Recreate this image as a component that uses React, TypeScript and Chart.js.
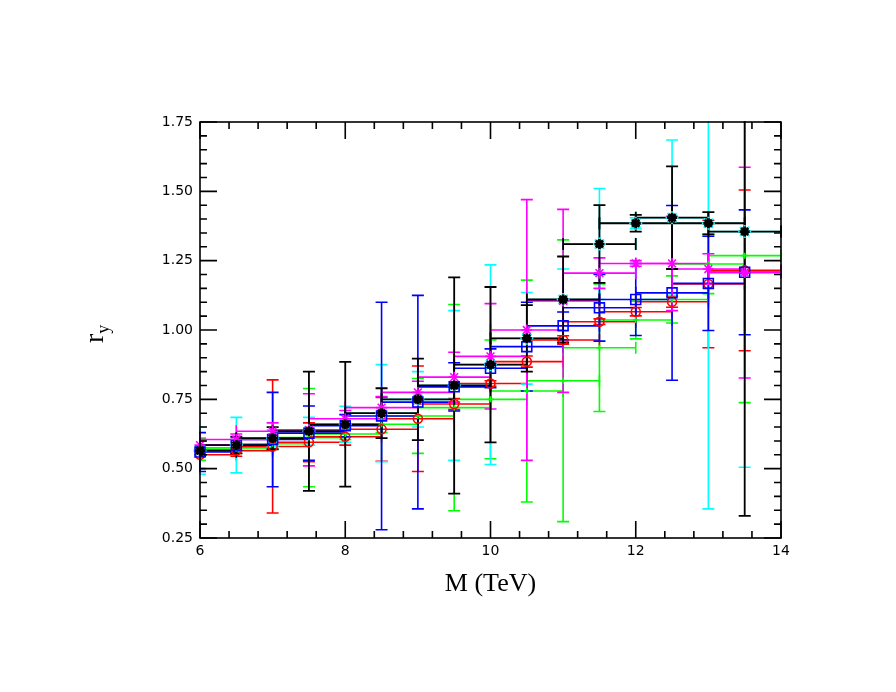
import React, { useEffect, useRef } from "react";
import { Chart, registerables } from "chart.js";

Chart.register(...registerables);

// Bin centres (TeV) and half bin width
const masses = [6, 6.5, 7, 7.5, 8, 8.5, 9, 9.5, 10, 10.5, 11, 11.5, 12, 12.5, 13, 13.5];
const binHalfWidth = 0.5;

// Series values and symmetric vertical errors
const blackValues = [0.565, 0.585, 0.61, 0.635, 0.66, 0.70, 0.75, 0.80, 0.875, 0.97, 1.11, 1.31, 1.385, 1.405, 1.385, 1.355];
const blackErrors = [0.02, 0.03, 0.04, 0.215, 0.225, 0.09, 0.147, 0.39, 0.28, 0.12, 0.155, 0.14, 0.03, 0.185, 0.04, 1.025];

const cyanValues = [0.565, 0.585, 0.61, 0.635, 0.66, 0.70, 0.75, 0.80, 0.875, 0.97, 1.11, 1.31, 1.385, 1.405, 1.385, 1.355];
const cyanErrors = [0.085, 0.1, 0.03, 0.05, 0.065, 0.175, 0.1, 0.27, 0.36, 0.165, 0.11, 0.2, 0.02, 0.28, 1.03, 0.85];

const magentaValues = [0.585, 0.605, 0.635, 0.64, 0.68, 0.72, 0.775, 0.83, 0.905, 1.0, 1.105, 1.205, 1.24, 1.24, 1.22, 1.207];
const magentaErrors = [0.02, 0.02, 0.03, 0.13, 0.03, 0.04, 0.04, 0.09, 0.19, 0.47, 0.33, 0.055, 0.01, 0.17, 0.055, 0.38];

const blueValues = [0.56, 0.585, 0.605, 0.628, 0.655, 0.69, 0.74, 0.795, 0.862, 0.94, 1.015, 1.08, 1.11, 1.134, 1.168, 1.208];
const blueErrors = [0.07, 0.02, 0.17, 0.098, 0.04, 0.41, 0.385, 0.087, 0.07, 0.16, 0.05, 0.12, 0.13, 0.315, 0.17, 0.225];

const redValues = [0.55, 0.565, 0.58, 0.595, 0.615, 0.642, 0.68, 0.733, 0.807, 0.886, 0.964, 1.03, 1.066, 1.102, 1.166, 1.215];
const redErrors = [0.05, 0.02, 0.24, 0.07, 0.03, 0.115, 0.19, 0.02, 0.01, 0.02, 0.015, 0.01, 0.015, 0.02, 0.23, 0.29];

const greenValues = [0.57, 0.575, 0.59, 0.612, 0.625, 0.66, 0.69, 0.72, 0.75, 0.78, 0.817, 0.936, 1.036, 1.11, 1.238, 1.268];
const greenErrors = [0.04, 0.02, 0.02, 0.177, 0.02, 0.03, 0.135, 0.372, 0.214, 0.40, 0.508, 0.23, 0.068, 0.085, 0.107, 0.53];

const xTickValues = [6, 8, 10, 12, 14];
const yTickValues = [0.25, 0.5, 0.75, 1.0, 1.25, 1.5, 1.75];
const xTitle = "M (TeV)";
const yTitleMain = "r";
const yTitleSub = "y";

type Series = {
  name: string;
  color: string;
  values: number[];
  errors: number[];
  pointStyle: string;
  radius: number;
  borderWidth: number;
  lineWidth: number;
  order: number;
};

const seriesList: Series[] = [
  { name: "black", color: "#000000", values: blackValues, errors: blackErrors, pointStyle: "star", radius: 5, borderWidth: 2.8, lineWidth: 1.8, order: 0 },
  { name: "magenta", color: "#ff00ff", values: magentaValues, errors: magentaErrors, pointStyle: "star", radius: 5.5, borderWidth: 1.6, lineWidth: 1.6, order: 1 },
  { name: "blue", color: "#0000ff", values: blueValues, errors: blueErrors, pointStyle: "rect", radius: 7, borderWidth: 1.6, lineWidth: 1.6, order: 2 },
  { name: "red", color: "#ff0000", values: redValues, errors: redErrors, pointStyle: "circle", radius: 4.5, borderWidth: 1.6, lineWidth: 1.6, order: 3 },
  { name: "green", color: "#00ff00", values: greenValues, errors: greenErrors, pointStyle: "cross", radius: 3, borderWidth: 1.6, lineWidth: 1.6, order: 4 },
  { name: "cyan", color: "#00ffff", values: cyanValues, errors: cyanErrors, pointStyle: "star", radius: 6.5, borderWidth: 2, lineWidth: 1.6, order: 5 },
];

// Drawing order for error bars (first = bottom)
const errorBarOrder = ["green", "red", "cyan", "blue", "magenta", "black"];

const errorBarsPlugin = {
  id: "errorBars",
  beforeDatasetsDraw(chart: any) {
    const { ctx, chartArea, scales } = chart;
    const xs = scales.x;
    const ys = scales.y;
    const cap = 6;
    ctx.save();
    ctx.beginPath();
    ctx.rect(chartArea.left - 1, chartArea.top - 1, chartArea.right - chartArea.left + 2, chartArea.bottom - chartArea.top + 2);
    ctx.clip();
    errorBarOrder.forEach((name) => {
      const s = seriesList.find((q) => q.name === name)!;
      ctx.strokeStyle = s.color;
      ctx.lineWidth = s.lineWidth;
      ctx.lineCap = "butt";
      masses.forEach((m, i) => {
        const v = s.values[i];
        const e = s.errors[i];
        const px = xs.getPixelForValue(m);
        const py = ys.getPixelForValue(v);
        const pl = xs.getPixelForValue(m - binHalfWidth);
        const pr = xs.getPixelForValue(m + binHalfWidth);
        const pt = ys.getPixelForValue(v + e);
        const pb = ys.getPixelForValue(v - e);
        ctx.beginPath();
        // horizontal bin bar with caps
        ctx.moveTo(pl, py);
        ctx.lineTo(pr, py);
        ctx.moveTo(pl, py - cap);
        ctx.lineTo(pl, py + cap);
        ctx.moveTo(pr, py - cap);
        ctx.lineTo(pr, py + cap);
        // vertical error with caps
        ctx.moveTo(px, pt);
        ctx.lineTo(px, pb);
        ctx.moveTo(px - cap, pt);
        ctx.lineTo(px + cap, pt);
        ctx.moveTo(px - cap, pb);
        ctx.lineTo(px + cap, pb);
        ctx.stroke();
      });
    });
    ctx.restore();
  },
};

const framePlugin = {
  id: "frame",
  afterDraw(chart: any) {
    const { ctx, chartArea, scales } = chart;
    const xs = scales.x;
    const ys = scales.y;
    const { left, right, top, bottom } = chartArea;
    ctx.save();
    ctx.strokeStyle = "#000000";
    ctx.lineWidth = 1.6;
    ctx.strokeRect(left, top, right - left, bottom - top);
    const major = 17;
    const minor = 7;
    ctx.beginPath();
    // x ticks: minor every 0.4, major every 2
    for (let k = 0; k <= 20; k++) {
      const val = xs.min + k * 0.4;
      const px = xs.getPixelForValue(val);
      const len = k % 5 === 0 ? major : minor;
      ctx.moveTo(px, bottom);
      ctx.lineTo(px, bottom - len);
      ctx.moveTo(px, top);
      ctx.lineTo(px, top + len);
    }
    // y ticks: minor every 0.05, major every 0.25
    for (let k = 0; k <= 30; k++) {
      const val = ys.min + k * 0.05;
      const py = ys.getPixelForValue(val);
      const len = k % 5 === 0 ? major : minor;
      ctx.moveTo(left, py);
      ctx.lineTo(left + len, py);
      ctx.moveTo(right, py);
      ctx.lineTo(right - len, py);
    }
    ctx.stroke();

    // axis titles
    ctx.fillStyle = "#000000";
    ctx.font = '26px "Liberation Serif", "DejaVu Serif", serif';
    ctx.textAlign = "center";
    ctx.textBaseline = "alphabetic";
    ctx.fillText(xTitle, (left + right) / 2, 591);

    ctx.save();
    ctx.translate(103, 331);
    ctx.rotate(-Math.PI / 2);
    ctx.textAlign = "left";
    ctx.font = '28px "Liberation Serif", "DejaVu Serif", serif';
    const rw = ctx.measureText(yTitleMain).width;
    ctx.fillText(yTitleMain, -12, 0);
    ctx.font = '18px "Liberation Serif", "DejaVu Serif", serif';
    ctx.fillText(yTitleSub, -12 + rw, 6);
    ctx.restore();

    ctx.restore();
  },
};

export default function App() {
  const canvasRef = useRef<HTMLCanvasElement | null>(null);

  useEffect(() => {
    if (!canvasRef.current) return;
    const datasets = seriesList.map((s) => ({
      label: s.name,
      data: masses.map((m, i) => ({ x: m, y: s.values[i] })),
      pointStyle: s.pointStyle as any,
      pointRadius: s.radius,
      pointBorderWidth: s.borderWidth,
      pointBorderColor: s.color,
      pointBackgroundColor: "rgba(0,0,0,0)",
      showLine: false,
      clip: false as any,
      order: s.order,
    }));
    const chart = new Chart(canvasRef.current, {
      type: "scatter",
      data: { datasets },
      options: {
        animation: false,
        responsive: false,
        maintainAspectRatio: false,
        layout: { padding: { left: 0, top: 122, right: 115, bottom: 0 } },
        plugins: { legend: { display: false }, tooltip: { enabled: false } },
        scales: {
          x: {
            type: "linear",
            min: 6,
            max: 14,
            afterBuildTicks: (scale: any) => {
              scale.ticks = xTickValues.map((v) => ({ value: v }));
            },
            afterFit: (scale: any) => {
              scale.height = 154;
            },
            grid: { display: false, drawTicks: false },
            border: { display: false },
            ticks: {
              color: "#000000",
              font: { family: '"DejaVu Sans", sans-serif', size: 14 },
              padding: 5,
              maxRotation: 0,
              autoSkip: false,
              callback: (v: any) => String(v),
            },
          },
          y: {
            type: "linear",
            min: 0.25,
            max: 1.75,
            afterBuildTicks: (scale: any) => {
              scale.ticks = yTickValues.map((v) => ({ value: v }));
            },
            afterFit: (scale: any) => {
              scale.width = 200;
            },
            grid: { display: false, drawTicks: false },
            border: { display: false },
            ticks: {
              color: "#000000",
              font: { family: '"DejaVu Sans", sans-serif', size: 14 },
              padding: 7,
              autoSkip: false,
              callback: (v: any) => Number(v).toFixed(2),
            },
          },
        },
      },
      plugins: [errorBarsPlugin, framePlugin],
    });
    return () => chart.destroy();
  }, []);

  return (
    <div style={{ position: "absolute", left: 0, top: 0, width: 896, height: 692, background: "#ffffff" }}>
      <canvas ref={canvasRef} width={896} height={692} style={{ width: 896, height: 692, display: "block" }} />
    </div>
  );
}
